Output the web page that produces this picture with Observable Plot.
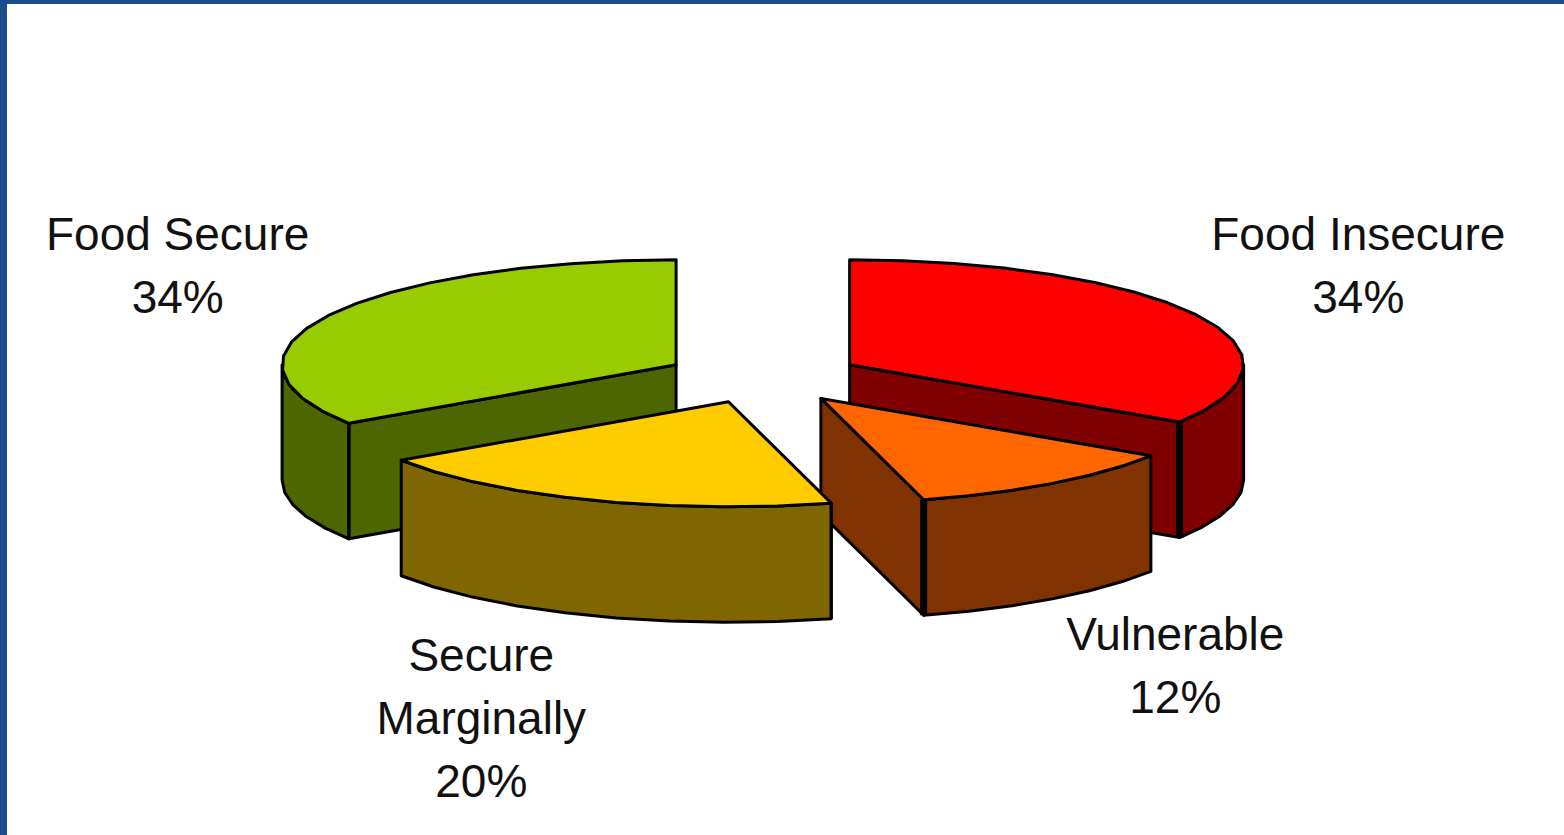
<!DOCTYPE html>
<html>
<head>
<meta charset="utf-8">
<script src="https://cdn.jsdelivr.net/npm/d3@7"></script>
<script src="https://cdn.jsdelivr.net/npm/@observablehq/plot@0.6"></script>
<style>
  html, body { margin: 0; padding: 0; background: #fff; overflow: hidden; }
  #chart { position: relative; width: 1564px; height: 835px; }
  #chart svg { display: block; position: absolute; left: 0; top: 0; }
  #chart::before { content: ""; position: absolute; left: 0; top: 0; width: 1564px; height: 4px; background: #1c4c8c; z-index: 2; }
  #chart::after { content: ""; position: absolute; left: 0; top: 0; width: 7px; height: 835px; background: #1c4c8c; z-index: 2; }
</style>
</head>
<body>
<div id="chart"></div>
<script>
// Data, clockwise from twelve o'clock (labels show them rounded)
const categories = ["Food Insecure", "Vulnerable", "Secure Marginally", "Food Secure"];
const shares = [34.2, 11.6, 19.8, 34.4];
const labelLines = ["Food Insecure", "Vulnerable", "Secure\nMarginally", "Food Secure"];

// Colours
const topColors = ["#ff0000", "#ff6600", "#ffcc00", "#99cc00"];
const wallColors = ["#800000", "#803300", "#806600", "#4d6600"];

// Pie geometry, in radii of the ellipse
const explode = 0.25;
const depth = 1.1;
const stepDeg = 8;
const paintOrder = [3, 0, 1, 2]; // back to front
const frontEdgeWidth = [7, 7, 3, 3];
const labelRadius = 1.75;
const labelDx = [-11, 7, -40, 23];
const labelDy = [-28, 135, 165, -29];

const total = d3.sum(shares);
const rad = d => d * Math.PI / 180;
let acc = 0;
const slices = categories.map((name, i) => {
  const start = acc / total * 360;
  acc += shares[i];
  const end = acc / total * 360;
  const mid = (start + end) / 2;
  return {
    i, name, start, end, mid,
    cx: explode * Math.sin(rad(mid)),
    cy: -explode * Math.cos(rad(mid))
  };
});

function arc(s, a0, a1, drop = 0) {
  const n = Math.max(1, Math.ceil((a1 - a0) / stepDeg));
  return d3.range(n + 1).map(k => {
    const a = a0 + (a1 - a0) * k / n;
    return { x: s.cx + Math.sin(rad(a)), y: s.cy - Math.cos(rad(a)) + drop };
  });
}
const centre = (s, drop = 0) => ({ x: s.cx, y: s.cy + drop });

function face(points, fill) {
  return Plot.line(points, { x: "x", y: "y", fill, stroke: "#000", strokeWidth: 3, curve: "linear-closed", strokeLinejoin: "round" });
}
function radialWall(s, a) {
  const rim = arc(s, a, a)[0];
  return face([centre(s), rim, { x: rim.x, y: rim.y + depth }, centre(s, depth)], wallColors[s.i]);
}

const marks = [];
for (const idx of paintOrder) {
  const s = slices[idx];
  // radial walls that face the viewer
  if (Math.sin(rad(s.start)) < -1e-6) marks.push(radialWall(s, s.start));
  if (Math.sin(rad(s.end)) > 1e-6) marks.push(radialWall(s, s.end));
  // rim wall: the part of the arc on the front half of the ellipse
  const a0 = Math.max(s.start, 90), a1 = Math.min(s.end, 270);
  if (a1 > a0) {
    marks.push(face([...arc(s, a0, a1), ...arc(s, a0, a1, depth).reverse()], wallColors[s.i]));
  }
  // the vertical corner between the walls
  const cornerAngle = Math.sin(rad(s.end)) > 1e-6 ? s.end : s.start;
  const corner = arc(s, cornerAngle, cornerAngle)[0];
  marks.push(Plot.line([corner, { x: corner.x, y: corner.y + depth }], {
    x: "x", y: "y", stroke: "#000", strokeWidth: frontEdgeWidth[s.i], strokeLinecap: "butt"
  }));
  // top
  marks.push(face([centre(s), ...arc(s, s.start, s.end)], topColors[s.i]));
}

const labels = slices.map(s => ({
  text: `${labelLines[s.i]}\n${Math.round(shares[s.i])}%`,
  x: labelRadius * Math.sin(rad(s.mid)),
  y: -labelRadius * Math.cos(rad(s.mid)),
  i: s.i
}));
paintOrder.forEach(i => {
  const l = labels[i];
  marks.push(Plot.text([l], {
    x: "x", y: "y", text: "text",
    dx: labelDx[i], dy: labelDy[i],
    fontSize: 46, lineHeight: 63 / 46,
    fontFamily: "Liberation Sans, Arial, sans-serif",
    fill: "#111", textAnchor: "middle", lineAnchor: "middle"
  }));
});

// Ellipse of 394 x 105 pixels around the undisplaced pie centre
const rx = 394, ry = 105, px = 762.5, py = 376.7;
const chart = Plot.plot({
  width: 1564, height: 835,
  marginTop: 0, marginRight: 0, marginBottom: 0, marginLeft: 0,
  x: { domain: [-px / rx, (1564 - px) / rx], range: [0, 1564], axis: null },
  y: { domain: [-py / ry, (835 - py) / ry], range: [0, 835], axis: null },
  style: { background: "transparent", overflow: "visible" },
  marks
});
document.getElementById("chart").appendChild(chart);
</script>
</body>
</html>
